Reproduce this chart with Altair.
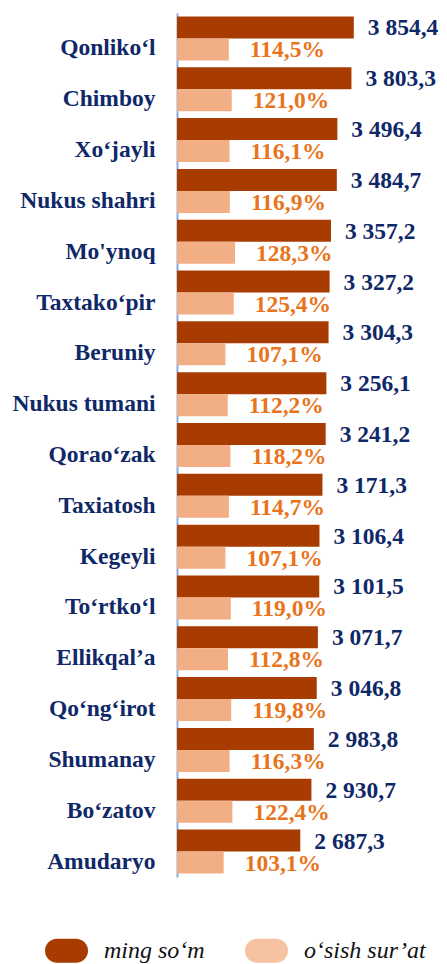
import altair as alt
import pandas as pd

regions = ["Qonliko‘l", "Chimboy", "Xo‘jayli", "Nukus shahri", "Mo'ynoq", "Taxtako‘pir",
           "Beruniy", "Nukus tumani", "Qorao‘zak", "Taxiatosh", "Kegeyli", "To‘rtko‘l",
           "Ellikqal’a", "Qo‘ng‘irot", "Shumanay", "Bo‘zatov", "Amudaryo"]
income = [3854.4, 3803.3, 3496.4, 3484.7, 3357.2, 3327.2, 3304.3, 3256.1, 3241.2,
          3171.3, 3106.4, 3101.5, 3071.7, 3046.8, 2983.8, 2930.7, 2687.3]
growth = [114.5, 121.0, 116.1, 116.9, 128.3, 125.4, 107.1, 112.2, 118.2,
          114.7, 107.1, 119.0, 112.8, 119.8, 116.3, 122.4, 103.1]
series = ["ming so‘m", "o‘sish sur’at"]

DARK = "#a83c00"
LIGHT = "#f2af86"
NAVY = "#0f2868"
ORANGE = "#e8741c"
FONT = "Liberation Serif"
FS = 23.5

df = pd.DataFrame({
    "region": regions,
    "income": income,
    "growth": growth,
    "income_lbl": [f"{v:,.1f}".replace(",", " ").replace(".", ",") for v in income],
    "growth_lbl": [f"{v:.1f}".replace(".", ",") + "%" for v in growth],
    "s1": [series[0]] * len(regions),
    "s2": [series[1]] * len(regions),
})

W, H = 262, 864
y_enc = alt.Y("region:N", sort=regions, scale=alt.Scale(paddingInner=0, paddingOuter=0),
              axis=alt.Axis(title=None, ticks=False, labelFont=FONT, labelFontSize=FS,
                            labelFontWeight="bold", labelColor=NAVY, labelPadding=22,
                            labelOffset=10,
                            domainColor="#8eaadb", domainWidth=2, labelLimit=300))

xs_dark = alt.Scale(domain=[0, 5712], nice=False, zero=True)
xs_light = alt.Scale(domain=[0, 579], nice=False, zero=True)

color_scale = alt.Scale(domain=series, range=[DARK, "#f5c2a2"])
pill = "M-0.44,-0.56H0.44A0.56,0.56 0 0 1 0.44,0.56H-0.44A0.56,0.56 0 0 1 -0.44,-0.56Z"
legend = alt.Legend(title=None, orient="none", direction="horizontal",
                    legendX=-132, legendY=916, symbolType=pill,
                    symbolSize=1849, symbolStrokeWidth=0,
                    labelFont=FONT, labelFontSize=24, labelFontStyle="italic",
                    labelColor="#111111", labelOffset=16, columnPadding=40,
                    labelLimit=400)

base = alt.Chart(df)

dark_bar = base.mark_bar(size=22, yOffset=-11).encode(
    x=alt.X("income:Q", scale=xs_dark, axis=None),
    y=y_enc,
    color=alt.Color("s1:N", scale=color_scale, legend=legend),
)
dark_txt = base.mark_text(align="left", baseline="middle", dx=14, yOffset=-10, font=FONT,
                          fontSize=FS, fontWeight="bold", color=NAVY).encode(
    x=alt.X("income:Q", scale=xs_dark, axis=None),
    y=y_enc,
    text="income_lbl:N",
)
light_bar = base.mark_bar(size=22, yOffset=11, fill=LIGHT).encode(
    x=alt.X("growth:Q", scale=xs_light, axis=None),
    y=y_enc,
    color=alt.Color("s2:N", scale=color_scale, legend=legend),
)
light_txt = base.mark_text(align="left", baseline="middle", dx=21, yOffset=12, font=FONT,
                           fontSize=FS, fontWeight="bold", color=ORANGE).encode(
    x=alt.X("growth:Q", scale=xs_light, axis=None),
    y=y_enc,
    text="growth_lbl:N",
)

chart = alt.layer(
    alt.layer(dark_bar, dark_txt),
    alt.layer(light_bar, light_txt),
).resolve_scale(x="independent").properties(
    width=W, height=H,
    autosize=alt.AutoSizeParams(type="none"),
    padding={"left": 169, "top": 5, "right": 0, "bottom": 90},
).configure_view(stroke=None)

chart.save("out.html", embed_options={"renderer": "svg", "actions": False})
